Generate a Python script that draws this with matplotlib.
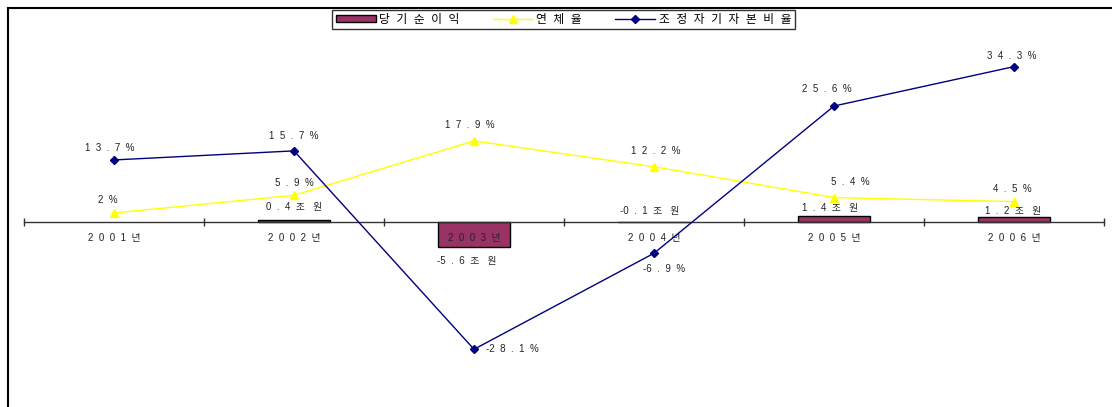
import numpy as np
import matplotlib
matplotlib.use("Agg")
import matplotlib.pyplot as plt
from matplotlib.lines import Line2D

plt.rcParams["font.family"] = ["Liberation Sans", "Noto Sans CJK KR", "DejaVu Sans"]
plt.rcParams["font.size"] = 7

# ---------------------------------------------------------------------------
# Data
# ---------------------------------------------------------------------------
years = ["2001년", "2002년", "2003년", "2004년", "2005년", "2006년"]
net_income = [np.nan, 0.4, -5.6, -0.1, 1.4, 1.2]      # 당기순이익 (조원)
delinquency = [2, 5.9, 17.9, 12.2, 5.4, 4.5]          # 연체율 (%)
bis_ratio = [13.7, 15.7, -28.1, -6.9, 25.6, 34.3]     # 조정자기자본비율 (%)

# label offsets in pixels (dx, dy)
income_off = [(0, 0), (0, 13), (-7, -14), (-4, 11), (-4, 8), (-1, 6)]
delinq_off = [(-6, 13), (0, 12), (-4, 16), (2, 16), (16, 16), (-2, 13)]
bis_off = [(-4, 12), (0, 15), (38, 0), (10, -16), (-7, 17), (-2, 11)]

BAR_COLOR = "#993366"
YELLOW = "#FFFF00"
NAVY = "#000080"
TEXT = "#222222"


def spaced(s):
    """Mimic the wide letter spacing of the original chart."""
    out = "  ".join(s)
    return out.replace("-  ", "-")


W, H, DPI = 1112, 407, 100
fig = plt.figure(figsize=(W / DPI, H / DPI), dpi=DPI)

# axes: category axis from x=24 to 1104 px, zero line at y=222 px
px = 4.53
ax = fig.add_axes([24 / W, 0, 1080 / W, (H - 8) / H])
ax.set_xlim(-0.5, len(years) - 0.5)
ax.set_ylim(-(H - 222) / px, (222 - 8) / px)

x = np.arange(len(years))

bars = ax.bar(x, net_income, width=0.4, color=BAR_COLOR, edgecolor="black",
              linewidth=1, zorder=1)
l_del, = ax.plot(x, delinquency, color=YELLOW, linewidth=1, marker="^",
                 markersize=6, zorder=3)
l_bis, = ax.plot(x, bis_ratio, color=NAVY, linewidth=1, marker="D",
                 markersize=4, zorder=4)

# --- data labels ---
for i, v in enumerate(net_income):
    if np.isnan(v):
        continue
    base = v if v < -1 else max(v, 0)
    dx, dy = income_off[i]
    ax.annotate(spaced(f"{v:g}조") + "   원", (x[i], base), xytext=(dx, dy),
                textcoords="offset pixels", ha="center", va="center",
                color=TEXT, zorder=5)

for i, v in enumerate(delinquency):
    dx, dy = delinq_off[i]
    ax.annotate(spaced(f"{v:g}%"), (x[i], v), xytext=(dx, dy),
                textcoords="offset pixels", ha="center", va="center",
                color=TEXT, zorder=5)

for i, v in enumerate(bis_ratio):
    dx, dy = bis_off[i]
    ax.annotate(spaced(f"{v:g}%"), (x[i], v), xytext=(dx, dy),
                textcoords="offset pixels", ha="center", va="center",
                color=TEXT, zorder=5)

# --- category axis drawn at zero ---
for side in ["top", "right", "left"]:
    ax.spines[side].set_visible(False)
ax.spines["bottom"].set_position(("data", 0))
ax.spines["bottom"].set_linewidth(1)
ax.spines["bottom"].set_color("#333333")
ax.set_yticks([])
ax.set_xticks(x)
ax.set_xticklabels([spaced(y) for y in years], color=TEXT)
ax.tick_params(axis="x", which="major", length=0, pad=8)
ax.set_xticks(np.arange(-0.5, len(years)), minor=True)
ax.tick_params(axis="x", which="minor", direction="inout", length=6,
               width=1, color="#333333")
ax.patch.set_alpha(0)

# --- legend ---
leg = ax.legend([bars, l_del, l_bis],
                [spaced("당기순이익"), spaced("연체율"), spaced("조정자기자본비율")],
                loc="upper center", bbox_to_anchor=(563.5 / W, 1 - 10 / H),
                bbox_transform=fig.transFigure, ncol=3, frameon=True,
                fancybox=False, edgecolor="black", fontsize=8.5,
                handlelength=3.4, handleheight=0.5, columnspacing=2.8,
                handletextpad=0.3, borderpad=0.3, borderaxespad=0)
leg.get_frame().set_linewidth(1)

# --- chart area border (top and left edges visible) ---
fig.add_artist(Line2D([8 / W, 1], [1 - 8 / H, 1 - 8 / H],
                      transform=fig.transFigure, color="black", linewidth=1.5))
fig.add_artist(Line2D([8 / W, 8 / W], [0, 1 - 8 / H],
                      transform=fig.transFigure, color="black", linewidth=1.5))

fig.savefig("out.png", dpi=DPI)
